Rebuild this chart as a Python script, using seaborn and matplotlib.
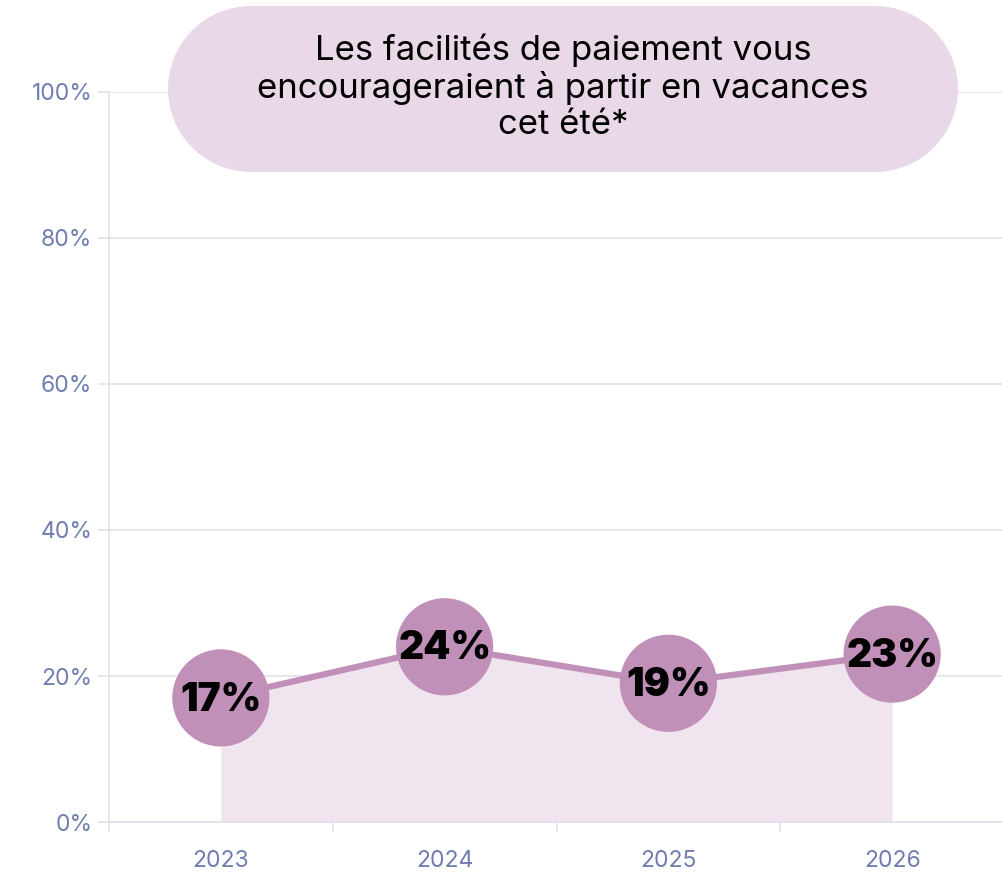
import numpy as np
import pandas as pd
import matplotlib.pyplot as plt
import seaborn as sns
from matplotlib.patches import Rectangle, Ellipse

# data
years = ["2023", "2024", "2025", "2026"]
values = [17, 24, 19, 23]
title = "Les facilités de paiement vous\nencourageraient à partir en vacances\ncet été*"

df = pd.DataFrame({"year": years, "value": values})
df["pos"] = np.arange(len(years))

line_col = "#c090b9"
fill_col = "#f0e5ef"
grid_col = "#e2e0ee"
tick_col = "#6f7db0"
pill_col = "#e9d8e7"

sns.set_theme(style="white")
plt.rcParams["font.family"] = ["Inter", "DejaVu Sans"]

W, H = 1002, 872
fig = plt.figure(figsize=(W / 100, H / 100), dpi=100)
ax = fig.add_axes([109 / W, 50 / H, 895 / W, 730 / H])

# area under the line
ax.fill_between(df["pos"], 0, df["value"], color=fill_col, zorder=2, linewidth=0)
sns.lineplot(data=df, x="pos", y="value", color=line_col, linewidth=4.5, ax=ax, zorder=3)
sns.scatterplot(data=df, x="pos", y="value", color=line_col, s=4900, edgecolor="none",
                ax=ax, zorder=4, clip_on=False)
for _, r in df.iterrows():
    ax.text(r["pos"], r["value"] - 0.3, f"{r['value']}%", ha="center", va="center",
            fontsize=28, fontweight="black", color="black", zorder=5)

ax.set_xlim(-0.5, 3.5)
ax.set_ylim(0, 100)
ax.set_yticks(np.arange(0, 101, 20))
ax.set_yticklabels([f"{v}%" for v in range(0, 101, 20)])
ax.yaxis.grid(True, color=grid_col, linewidth=1.2, zorder=1)
ax.set_axisbelow(True)

# ticks at category boundaries, labels at centres
ax.set_xticks([-0.5, 0.5, 1.5, 2.5])
ax.set_xticklabels([])
ax.set_xticks(df["pos"], minor=True)
ax.set_xticklabels(years, minor=True)
ax.tick_params(axis="x", which="major", length=7, color=grid_col, width=1.2, direction="out", bottom=True)
ax.tick_params(axis="x", which="minor", length=0, pad=20, labelsize=16.5, labelcolor=tick_col)
ax.tick_params(axis="y", length=8, color=grid_col, width=1.2, labelsize=16.5,
               labelcolor=tick_col, pad=4, left=True)

for s in ["top", "right"]:
    ax.spines[s].set_visible(False)
for s in ["left", "bottom"]:
    ax.spines[s].set_color(grid_col)
    ax.spines[s].set_linewidth(1.2)
ax.set_xlabel("")
ax.set_ylabel("")

# title pill
r = 83
cx0, cx1, cy = 168 + r, 958 - r, H - 89
fig.patches.append(Rectangle((cx0 / W, (cy - r) / H), (cx1 - cx0) / W, 2 * r / H,
                             transform=fig.transFigure, facecolor=pill_col, edgecolor="none"))
for cx in (cx0, cx1):
    fig.patches.append(Ellipse((cx / W, cy / H), 2 * r / W, 2 * r / H,
                               transform=fig.transFigure, facecolor=pill_col, edgecolor="none"))
fig.text(563 / W, (H - 87) / H, title, ha="center", va="center", fontsize=25,
         color="black", linespacing=1.15)

plt.savefig("out.png", dpi=100)
